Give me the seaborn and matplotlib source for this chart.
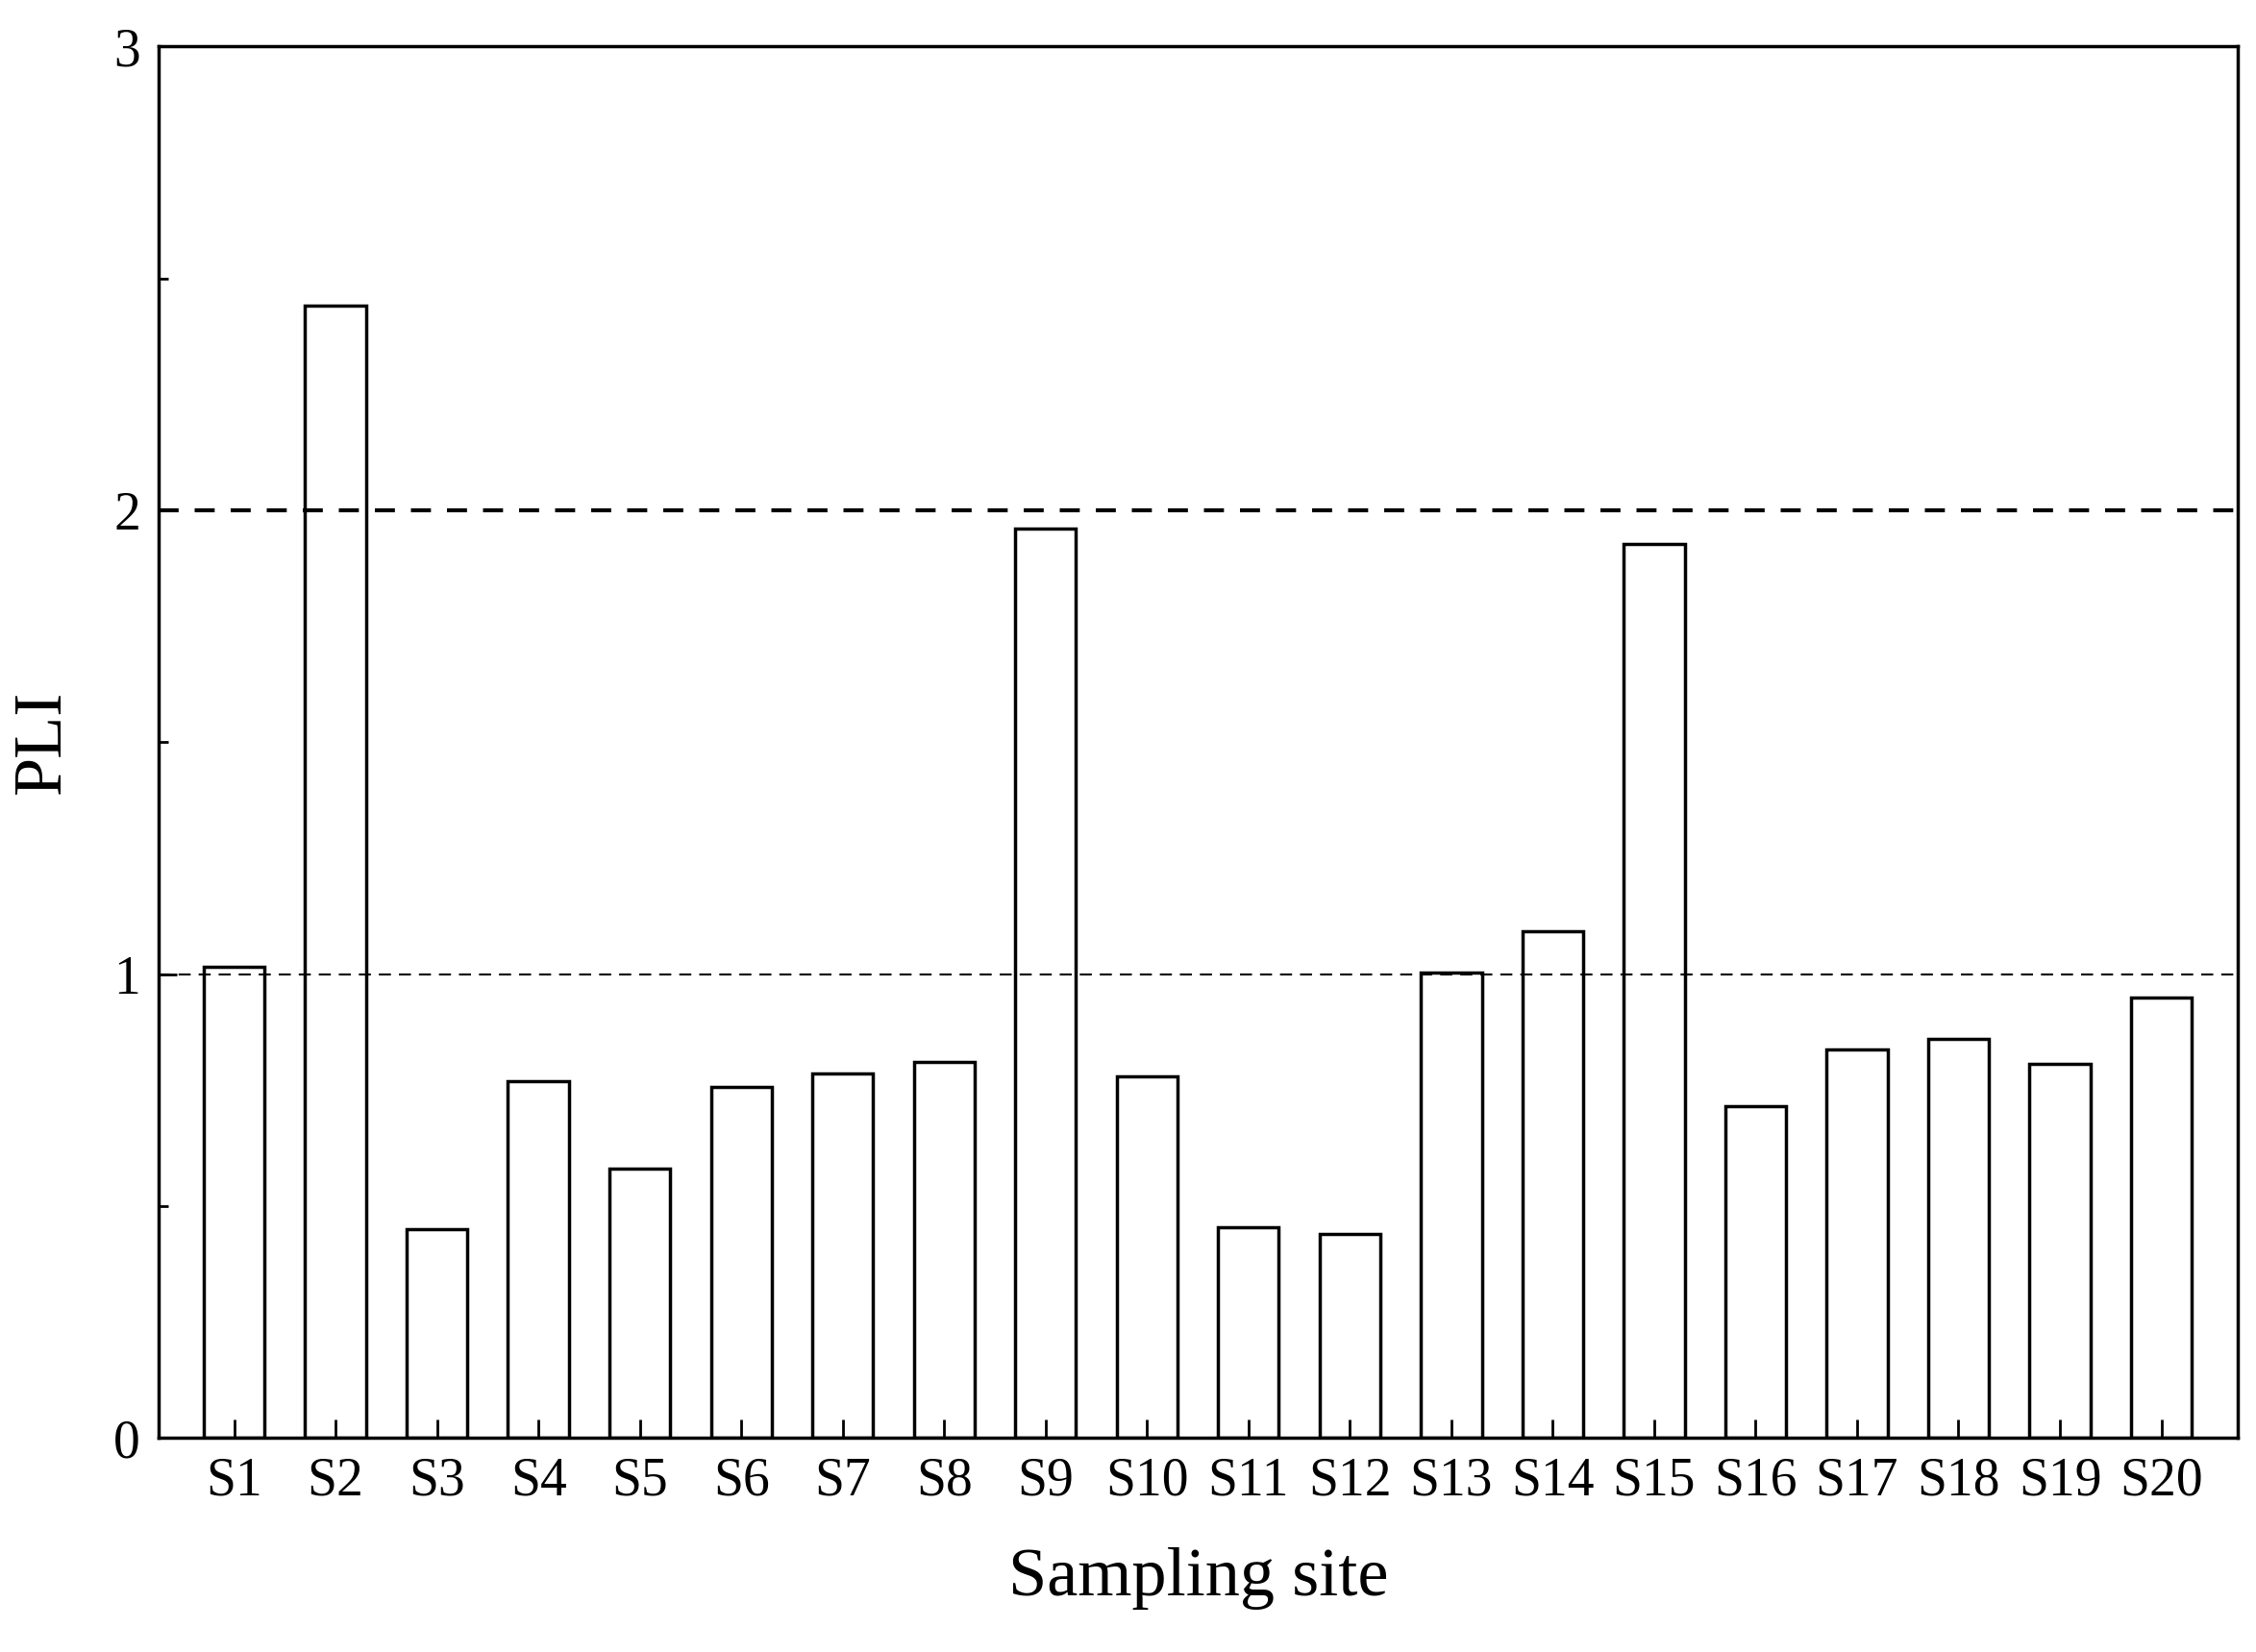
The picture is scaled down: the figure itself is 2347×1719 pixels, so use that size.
import matplotlib
matplotlib.use("Agg")
import matplotlib.pyplot as plt
import seaborn as sns
import pandas as pd
from matplotlib.ticker import MultipleLocator

sites = [f"S{i}" for i in range(1, 21)]
pli = [1.016, 2.44, 0.45, 0.77, 0.58, 0.757, 0.785, 0.81, 1.96, 0.78,
       0.455, 0.44, 1.003, 1.093, 1.928, 0.716, 0.838, 0.86, 0.807, 0.95]

sns.set_style("ticks")
plt.rcParams['font.family'] = ['Liberation Serif', 'DejaVu Serif']
plt.rcParams['text.color'] = 'black'
plt.rcParams['axes.labelcolor'] = 'black'
plt.rcParams['xtick.color'] = 'black'
plt.rcParams['ytick.color'] = 'black'

df = pd.DataFrame({"site": sites, "PLI": pli})

fig = plt.figure(figsize=(23.47, 17.19), dpi=100)
ax = fig.add_axes([0.0705, 0.1295, 0.9215, 0.8425])
sns.barplot(data=df, x="site", y="PLI", color="white", edgecolor="black",
            linewidth=2.5, width=0.6, ax=ax, zorder=0)
ax.set_axisbelow(False)
ax.axhline(2, color="black", linestyle="--", linewidth=3, dashes=(5, 4))
ax.axhline(1, color="black", linestyle="--", linewidth=1.5, dashes=(6, 4))

ax.set_ylim(0, 3)
ax.set_xlim(-0.74, 19.755)
ax.yaxis.set_major_locator(MultipleLocator(1))
ax.yaxis.set_minor_locator(MultipleLocator(0.5))
ax.tick_params(axis="both", which="both", direction="in", width=2, labelsize=40)
ax.tick_params(axis="both", which="major", length=14, pad=14)
ax.tick_params(axis="y", which="minor", length=7)
for s in ax.spines.values():
    s.set_linewidth(2.5)
    s.set_visible(True)
    s.set_color("black")
ax.set_xlabel("Sampling site", fontsize=52, labelpad=30)
ax.set_ylabel("PLI", fontsize=52, labelpad=30)

fig.savefig("out.png", dpi=100)
